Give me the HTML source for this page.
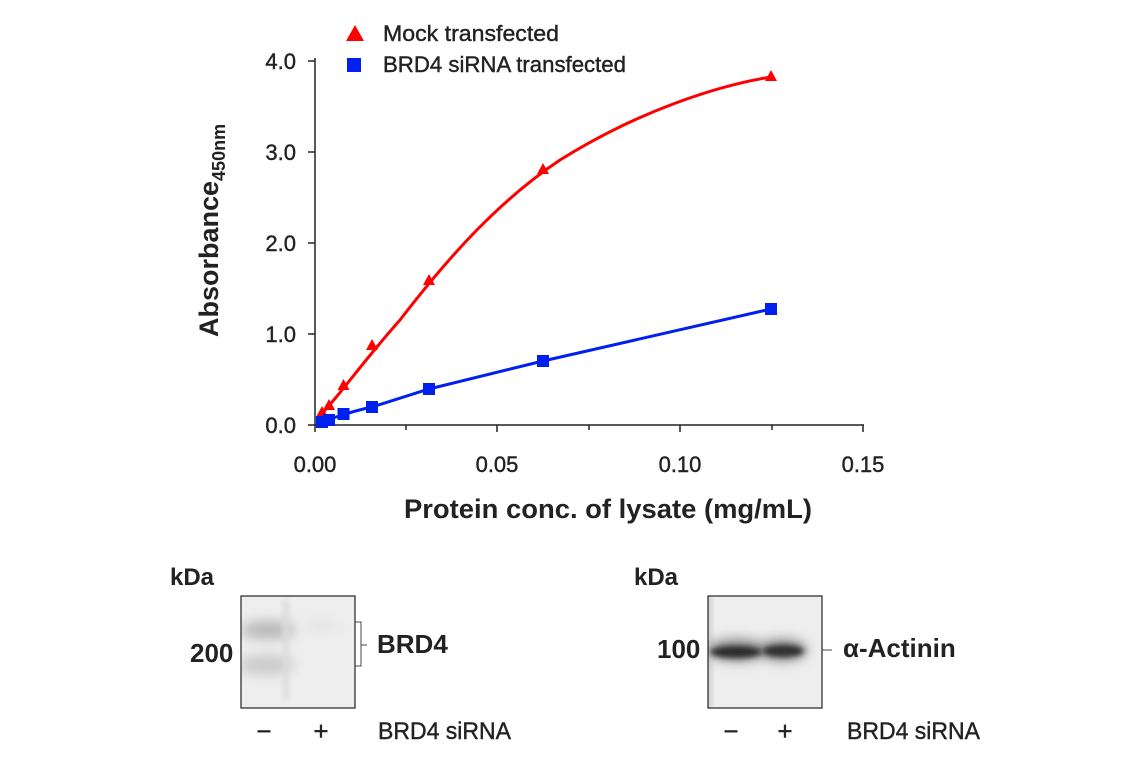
<!DOCTYPE html>
<html><head><meta charset="utf-8"><style>
body{margin:0;background:#fff;}
svg text{font-family:"Liberation Sans Narrow","Liberation Sans",sans-serif;fill:#222;}
.m{stroke:#222;stroke-width:0.4;}
</style></head><body>
<svg width="1141" height="768" viewBox="0 0 1141 768" xmlns="http://www.w3.org/2000/svg">
<defs>
<filter id="b1" x="-50%" y="-100%" width="200%" height="300%"><feGaussianBlur stdDeviation="6"/></filter>
<filter id="b2" x="-50%" y="-100%" width="200%" height="300%"><feGaussianBlur stdDeviation="3"/></filter>
<clipPath id="c1"><rect x="241" y="596" width="114" height="112"/></clipPath>
<clipPath id="c2"><rect x="708" y="596" width="114" height="112"/></clipPath>
</defs>
<line x1="315" y1="425" x2="864" y2="425" stroke="#222" stroke-width="1.5"/>
<line x1="315" y1="425" x2="315" y2="58" stroke="#222" stroke-width="1.5"/>
<g stroke="#222" stroke-width="1.5">
<line x1="315" y1="425" x2="315" y2="432"/><line x1="406" y1="425" x2="406" y2="430"/>
<line x1="497" y1="425" x2="497" y2="432"/><line x1="589" y1="425" x2="589" y2="430"/>
<line x1="680" y1="425" x2="680" y2="432"/><line x1="772" y1="425" x2="772" y2="430"/>
<line x1="863" y1="425" x2="863" y2="432"/>
<line x1="308" y1="425" x2="315" y2="425"/><line x1="308" y1="334" x2="315" y2="334"/>
<line x1="308" y1="243" x2="315" y2="243"/><line x1="308" y1="152" x2="315" y2="152"/>
<line x1="308" y1="61" x2="315" y2="61"/>
</g>
<g font-size="22" text-anchor="end" class="m">
<text x="296" y="433">0.0</text><text x="296" y="342">1.0</text>
<text x="296" y="251">2.0</text><text x="296" y="160">3.0</text><text x="296" y="69">4.0</text>
</g>
<g font-size="22" text-anchor="middle" class="m">
<text x="315" y="472">0.00</text><text x="497" y="472">0.05</text>
<text x="680" y="472">0.10</text><text x="863" y="472">0.15</text>
</g>
<text x="608" y="518" font-size="27" font-weight="bold" text-anchor="middle" textLength="408" lengthAdjust="spacingAndGlyphs">Protein conc. of lysate (mg/mL)</text>
<text transform="translate(218,337) rotate(-90)" font-size="27" font-weight="bold">Absorbance<tspan font-size="18" dy="7">450nm</tspan></text>
<polygon points="355,25 346,41 364,41" fill="#f00"/>
<text x="383" y="41" font-size="22" class="m" textLength="176" lengthAdjust="spacingAndGlyphs">Mock transfected</text>
<rect x="347" y="58" width="14" height="14" fill="#0020f0"/>
<text x="383" y="72" font-size="22" class="m" textLength="243" lengthAdjust="spacingAndGlyphs">BRD4 siRNA transfected</text>
<path d="M318,418 C340,395 360,365 400,320 C450,255 500,200 560,160 C640,110 720,85 771,77" fill="none" stroke="#f00" stroke-width="3"/>
<path d="M318,424 C330,419 345,413 372,407 L429,389 L543,361 L771,309" fill="none" stroke="#0020f0" stroke-width="3"/>
<g fill="#f00">
<polygon points="322,406 316,417 328,417"/><polygon points="329,399 323,410 335,410"/>
<polygon points="343.5,379 337.5,390 349.5,390"/><polygon points="372,339 366,350 378,350"/>
<polygon points="429,274 423,285 435,285"/><polygon points="543,163 537,174 549,174"/>
<polygon points="771,70 765,81 777,81"/>
</g>
<g fill="#0020f0">
<rect x="316" y="416" width="12" height="12"/><rect x="323" y="414" width="12" height="12"/>
<rect x="337.5" y="408" width="12" height="12"/><rect x="366" y="401" width="12" height="12"/>
<rect x="423" y="383" width="12" height="12"/><rect x="537" y="355" width="12" height="12"/>
<rect x="765" y="303" width="12" height="12"/>
</g>
<text x="170" y="585" font-size="24" font-weight="bold">kDa</text>
<rect x="241" y="596" width="114" height="112" fill="#eeeeee"/>
<g clip-path="url(#c1)">
<ellipse cx="268" cy="630" rx="28" ry="9" fill="#b8b8b8" filter="url(#b1)"/>
<ellipse cx="266" cy="665" rx="28" ry="10" fill="#cacaca" filter="url(#b1)"/>
<rect x="283" y="600" width="6" height="100" fill="#dcdcdc" filter="url(#b2)"/>
<ellipse cx="322" cy="626" rx="18" ry="5" fill="#e2e2e2" filter="url(#b1)"/>
</g>
<rect x="241" y="596" width="114" height="112" fill="none" stroke="#222" stroke-width="1.2"/>
<text x="190" y="662" font-size="26" font-weight="bold">200</text>
<path d="M355,622 H361 V666 H355 M361,645 H367" fill="none" stroke="#444" stroke-width="1"/>
<text x="377" y="653" font-size="26" font-weight="bold">BRD4</text>
<text x="264" y="740" font-size="26" text-anchor="middle" class="m">−</text>
<text x="321" y="740" font-size="26" text-anchor="middle" class="m">+</text>
<text x="378" y="739" font-size="24" class="m" textLength="133" lengthAdjust="spacingAndGlyphs">BRD4 siRNA</text>
<text x="634" y="585" font-size="24" font-weight="bold">kDa</text>
<rect x="708" y="596" width="114" height="112" fill="#eeeeee"/>
<g clip-path="url(#c2)">
<rect x="706" y="596" width="6" height="112" fill="#cfcfcf" filter="url(#b2)"/>
<ellipse cx="737" cy="650" rx="30" ry="11" fill="#888" filter="url(#b1)"/>
<ellipse cx="783" cy="650" rx="24" ry="11" fill="#8a8a8a" filter="url(#b1)"/>
<ellipse cx="736" cy="652" rx="26" ry="6" fill="#2a2a2a" filter="url(#b2)"/>
<ellipse cx="783" cy="651" rx="21" ry="6" fill="#2e2e2e" filter="url(#b2)"/>
</g>
<rect x="708" y="596" width="114" height="112" fill="none" stroke="#222" stroke-width="1.2"/>
<text x="657" y="658" font-size="26" font-weight="bold">100</text>
<line x1="822" y1="650" x2="832" y2="650" stroke="#444" stroke-width="1"/>
<text x="843" y="657" font-size="26" font-weight="bold">α-Actinin</text>
<text x="731" y="740" font-size="26" text-anchor="middle" class="m">−</text>
<text x="785" y="740" font-size="26" text-anchor="middle" class="m">+</text>
<text x="847" y="739" font-size="24" class="m" textLength="133" lengthAdjust="spacingAndGlyphs">BRD4 siRNA</text>
</svg>
</body></html>
